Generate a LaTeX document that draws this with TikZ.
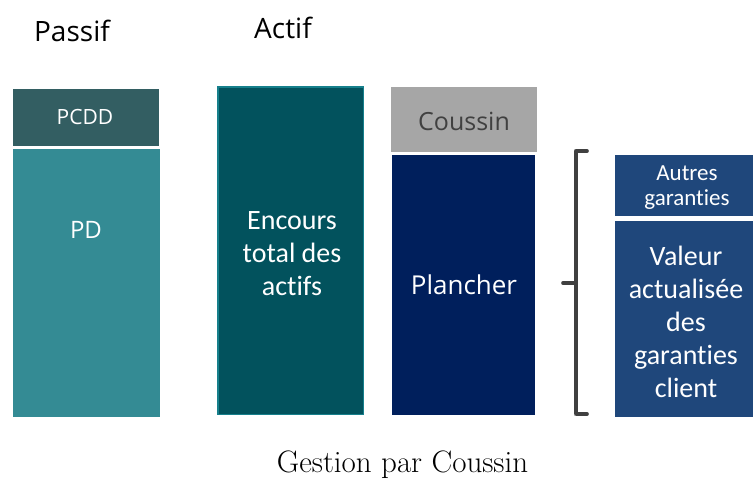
\documentclass[tikz,border=0pt]{standalone}
\usepackage{fontspec}
\newfontfamily\segfont{Open Sans}
\newfontfamily\calfont[Ligatures=NoCommon]{Carlito}
\definecolor{pcddcol}{HTML}{335E62}
\definecolor{pdcol}{HTML}{348B94}
\definecolor{encourscol}{HTML}{02525D}
\definecolor{encoursedge}{HTML}{16808C}
\definecolor{coussincol}{HTML}{A6A6A6}
\definecolor{coussintxt}{HTML}{404040}
\definecolor{planchercol}{HTML}{001F5C}
\definecolor{garantcol}{HTML}{1F477B}
\definecolor{bracecol}{HTML}{404040}
\tikzset{
  block/.style={rectangle, inner sep=0pt, outer sep=0pt},
  heading/.style={anchor=base, inner sep=0pt, font=\segfont\fontsize{28}{34}\selectfont},
  boxtext/.style={text=white, inner sep=0pt},
}
\begin{document}
\begin{tikzpicture}[x=1pt, y=-1pt]
\useasboundingbox (0,0) rectangle (753,479);

% column headings
\node[heading] (passif) at (72,41) {Passif};
\node[heading] (actif) at (283,38) {Actif};

% liabilities column
\node[block, fill=pcddcol, minimum width=146pt, minimum height=57pt] (pcdd) at (86,117.5) {};
\node[block, fill=pdcol, minimum width=147pt, minimum height=268pt] (pd) at (86.5,283) {};
\node[boxtext, anchor=base, font=\segfont\fontsize{21}{25}\selectfont] (pcddt) at (85,124) {PCDD};
\node[boxtext, anchor=base, font=\segfont\fontsize{24}{28}\selectfont] (pdt) at (86,238) {PD};

% assets column
\node[block, fill=encourscol, draw=encoursedge, line width=1.5pt, minimum width=145.5pt, minimum height=327.5pt] (encours) at (290.5,250.5) {};
\node[boxtext, align=center, font=\calfont\fontsize{28}{33}\selectfont] (encourst) at (292,254) {Encours\\total des\\actifs};

% cushion and floor
\node[block, fill=coussincol, minimum width=146pt, minimum height=65pt] (coussin) at (464,119.5) {};
\node[block, fill=planchercol, minimum width=143pt, minimum height=260pt] (plancher) at (463.5,285) {};
\node[anchor=base, inner sep=0pt, text=coussintxt, font=\segfont\fontsize{25}{30}\selectfont] (coussint) at (464,130) {Coussin};
\node[boxtext, anchor=base, font=\segfont\fontsize{26}{31}\selectfont] (planchert) at (464,294) {Plancher};

% guarantees
\node[block, fill=garantcol, minimum width=138pt, minimum height=61pt] (autres) at (684,185.5) {};
\node[block, fill=garantcol, minimum width=138pt, minimum height=196pt] (valeur) at (684,319) {};
\node[boxtext, align=center, font=\calfont\fontsize{23}{25}\selectfont] (autrest) at (687,188) {Autres\\garanties};
\node[boxtext, align=center, font=\calfont\fontsize{28}{33}\selectfont] (valeurt) at (686,322) {Valeur\\actualisée\\des\\garanties\\client};

% bracket grouping the guarantees
\coordinate (btop) at (587,151);
\coordinate (bbot) at (587,414);
\coordinate (btip) at (563,283);
\coordinate (bmid) at (576,283);
\begin{scope}[shift={(1.5pt,-2pt)}, draw=black!25, line width=4pt, line cap=round]
  \draw (btop) -- ++(-11,0) -- ++(0,263) -- (bbot);
  \draw (btip) -- (bmid);
\end{scope}
\draw[bracecol, line width=3.5pt, line join=round, line cap=round]
  (btop) -- ++(-11,0) -- ++(0,263) -- (bbot);
\draw[bracecol, line width=3.5pt, line cap=round] (btip) -- (bmid);

% caption
\node[anchor=base, inner sep=0pt, font=\fontsize{31}{36}\selectfont] (caption) at (402.5,472) {Gestion par Coussin};
\end{tikzpicture}
\end{document}
